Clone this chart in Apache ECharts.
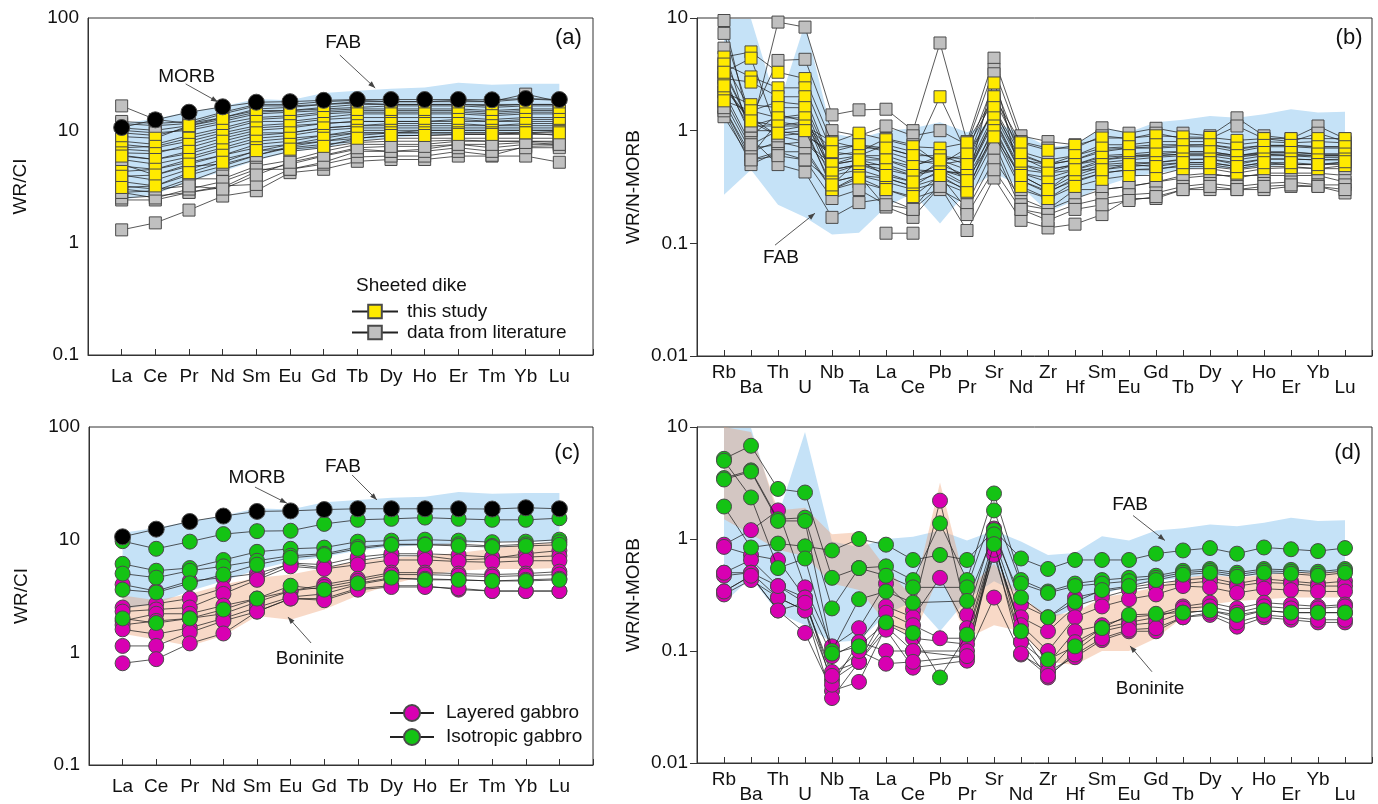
<!DOCTYPE html>
<html><head><meta charset="utf-8">
<script src="https://cdn.jsdelivr.net/npm/echarts@6/dist/echarts.min.js"></script>
<style>html,body{margin:0;padding:0;background:#fff}#c{width:1378px;height:804px}</style>
</head><body><div id="c"></div>
<script>
const FONT = "'Liberation Sans', Arial, sans-serif";
const REE = ['La','Ce','Pr','Nd','Sm','Eu','Gd','Tb','Dy','Ho','Er','Tm','Yb','Lu'];
const TE = ['Rb','Ba','Th','U','Nb','Ta','La','Ce','Pb','Pr','Sr','Nd','Zr','Hf','Sm','Eu','Gd','Tb','Dy','Y','Ho','Er','Yb','Lu'];

// MORB (chondrite-normalised)
const morbCI = [10.6, 12.4, 14.5, 16.2, 17.8, 18.0, 18.5, 18.8, 18.8, 18.8, 18.8, 18.7, 19.2, 18.8];
// FAB field (chondrite-normalised)
const fabCItop = [11.5, 12.7, 14.6, 16.3, 19.0, 18.5, 21.5, 22.5, 23.5, 24.0, 26.5, 25.5, 26.0, 26.0];
const fabCIbot = [2.4, 2.7, 3.5, 4.3, 5.4, 6.4, 7.0, 8.0, 8.6, 9.0, 9.3, 9.6, 9.7, 9.7];
// Boninite field (chondrite-normalised)
const bonCItop = [3.2, 2.9, 3.3, 4.0, 4.6, 4.9, 5.6, 6.5, 6.9, 7.2, 7.6, 8.3, 9.1, 9.4];
const bonCIbot = [1.46, 1.3, 1.14, 1.4, 2.1, 1.95, 2.4, 3.2, 4.0, 4.8, 5.3, 5.5, 5.5, 5.6];
// FAB field (N-MORB-normalised)
const fabNMtop = [9.8, 9.8, 1.6, 9.0, 0.95, 0.85, 1.0, 1.05, 1.19, 0.97, 1.19, 0.95, 0.72, 0.75, 1.06, 0.97, 1.19, 1.25, 1.35, 1.3, 1.4, 1.55, 1.45, 1.47];
const fabNMbot = [0.27, 0.45, 0.22, 0.17, 0.12, 0.124, 0.21, 0.28, 0.15, 0.29, 0.42, 0.32, 0.19, 0.24, 0.32, 0.38, 0.42, 0.45, 0.47, 0.46, 0.48, 0.5, 0.5, 0.5];
// Boninite field (N-MORB-normalised)
const bonNMtop = [10, 9, 1.8, 1.9, 1.1, 1.15, 0.55, 0.3, 3.2, 0.35, 0.6, 0.3, 0.21, 0.22, 0.3, 0.33, 0.37, 0.45, 0.48, 0.45, 0.48, 0.5, 0.5, 0.52];
const bonNMbot = [1.5, 1.1, 0.8, 0.7, 0.4, 0.35, 0.18, 0.13, 0.5, 0.13, 0.17, 0.15, 0.08, 0.075, 0.1, 0.1, 0.13, 0.2, 0.26, 0.28, 0.29, 0.3, 0.3, 0.3];

// Sheeted dike, this study (CI)
const dikeStudyCI = [
  [8.8, 8.5, 11, 12.5, 14.5, 15, 15.5, 16, 16.5, 16.5, 16.5, 16, 16.5, 16.5],
  [7.0, 7.2, 8.5, 10, 12, 12, 13, 14, 14, 14, 14, 13.5, 14, 14],
  [6.3, 6.2, 7.5, 9, 10.5, 11, 11.5, 12, 12, 12, 12.5, 12, 12.5, 12.5],
  [5.9, 5.5, 6.5, 8, 9.5, 9.5, 10.5, 11, 11.5, 11.5, 11.5, 11, 11.5, 11.5],
  [4.3, 4.5, 5.5, 6.7, 8, 8.5, 9, 10, 10, 10, 10, 10, 10, 10],
  [3.9, 4.0, 5.0, 6.0, 7.0, 7.5, 8.5, 9.5, 9.5, 9.5, 9.5, 9.5, 9.5, 9.8],
  [3.1, 3.2, 4.2, 5.2, 6.6, 6.8, 7.2, 8.5, 9.0, 9.0, 9.2, 9.2, 9.5, 9.5]
];
// Sheeted dike, literature (CI)
const dikeLitCI = [
  [16.5, 12.5, 11.5, 13, 15, 15, 16, 17, 17, 17, 17, 16.5, 17, 17],
  [1.3, 1.5, 1.95, 2.6, 2.9, 4.2, 4.5, 5.3, 5.5, 5.5, 5.9, 5.9, 5.9, 5.2],
  [2.4, 2.4, 2.8, 3.2, 3.3, 4.5, 5.0, 5.8, 5.9, 5.9, 6.5, 6.0, 7.2, 7.3],
  [2.5, 2.6, 2.8, 3.1, 4.3, 5.0, 5.9, 6.8, 6.5, 6.8, 7.5, 7.0, 7.5, 7.5],
  [2.8, 2.9, 3.7, 3.7, 4.8, 5.4, 6.5, 7.5, 7.5, 7.5, 8.0, 8.0, 8.0, 8.0],
  [11.5, 11, 11.5, 14, 16.5, 16.5, 17, 18, 18, 18, 18, 18, 21, 18],
  [10.5, 10, 11, 13, 15.5, 16, 17, 17.5, 17, 17, 17, 17, 17, 17],
  [9.5, 9.0, 10.5, 12, 14, 14.5, 15, 15.5, 15.5, 15.5, 15.5, 15, 15.5, 15.5],
  [8.0, 7.5, 9.0, 10.5, 12.5, 13, 14, 14.5, 14.5, 14.5, 14.5, 14, 14.5, 14.5],
  [7.5, 7.0, 8.0, 9.5, 11, 11.5, 12.5, 13, 13, 13, 13, 12.5, 13, 13],
  [6.8, 6.5, 7.0, 8.5, 10, 10.5, 11.5, 12, 12, 12, 12, 12, 12, 12],
  [6.0, 5.5, 6.2, 7.5, 9.0, 9.5, 10.5, 11, 11, 11, 11, 11, 11, 11],
  [5.5, 5.0, 5.8, 7.0, 8.5, 9.0, 10, 10.5, 10.5, 10.5, 10.5, 10.5, 10.5, 10.5],
  [4.8, 4.5, 5.2, 6.0, 7.5, 8.0, 9.0, 9.5, 9.5, 10, 10, 10, 10, 10],
  [4.0, 3.6, 4.5, 5.5, 6.5, 7.5, 8.0, 8.5, 9.0, 9.0, 9.2, 9.2, 9.2, 9.2],
  [3.5, 3.2, 4.0, 4.8, 6.0, 7.0, 7.5, 8.0, 8.5, 8.5, 8.5, 8.5, 8.5, 8.5],
  [3.0, 2.8, 3.5, 4.5, 5.5, 6.5, 7.0, 7.8, 8.0, 8.0, 8.2, 8.0, 8.0, 7.8],
  [2.8, 2.5, 3.0, 3.5, 4.5, 4.5, 5.2, 6.5, 6.5, 6.5, 7.0, 6.5, 7.0, 7.0],
  [12, 11.5, 12, 14.5, 17, 17, 18, 18.5, 18, 18, 18.5, 18, 19, 18.5],
  [10, 9.5, 10, 11.5, 13, 13.5, 14.5, 15, 15, 15, 15, 14.5, 15, 15],
  [5.0, 4.0, 4.8, 5.0, 6.0, 7.2, 8.0, 9.0, 9.5, 9.5, 9.5, 9.5, 9.5, 9.0],
  [3.2, 3.0, 3.2, 3.0, 4.0, 5.2, 6.0, 7.0, 7.2, 7.2, 7.5, 7.5, 7.8, 7.5]
];
// Sheeted dike, this study (N-MORB)
const dikeStudyNM = [
  [4.5, 5.0, 3.3, 2.9, 0.78, 0.95, 0.83, 0.72, 0.7, 0.78, 2.0, 0.78, 0.67, 0.74, 0.86, 0.86, 0.9, 0.88, 0.87, 0.82, 0.85, 0.85, 0.85, 0.85],
  [3.9, 3.0, 2.4, 2.4, 0.65, 0.75, 0.7, 0.6, 2.0, 0.62, 2.65, 0.62, 0.5, 0.6, 0.7, 0.72, 0.75, 0.75, 0.75, 0.7, 0.74, 0.74, 0.72, 0.72],
  [2.9, 2.7, 2.0, 2.0, 0.5, 0.6, 0.55, 0.48, 0.6, 0.5, 1.6, 0.5, 0.42, 0.5, 0.58, 0.6, 0.62, 0.65, 0.65, 0.6, 0.64, 0.64, 0.62, 0.62],
  [2.2, 1.7, 1.6, 1.6, 0.42, 0.5, 0.45, 0.4, 0.5, 0.4, 1.3, 0.42, 0.35, 0.42, 0.5, 0.52, 0.52, 0.56, 0.56, 0.52, 0.56, 0.56, 0.55, 0.56],
  [1.84, 1.5, 1.3, 1.3, 0.35, 0.4, 0.38, 0.32, 0.45, 0.33, 1.1, 0.36, 0.29, 0.36, 0.42, 0.45, 0.45, 0.5, 0.5, 0.46, 0.5, 0.5, 0.5, 0.52],
  [2.5, 1.22, 1.1, 1.1, 0.3, 0.38, 0.3, 0.26, 0.4, 0.29, 1.0, 0.32, 0.25, 0.32, 0.37, 0.4, 0.4, 0.46, 0.46, 0.42, 0.46, 0.47, 0.46, 0.49],
  [3.3, 4.4, 0.95, 1.0, 0.33, 0.55, 0.4, 0.35, 0.55, 0.36, 0.88, 0.4, 0.3, 0.45, 0.45, 0.5, 0.48, 0.52, 0.52, 0.48, 0.52, 0.52, 0.5, 0.53]
];
// Sheeted dike, literature (N-MORB)
const dikeLitNM = [
  [9.5, 1.0, 9.2, 8.3, 1.38, 1.53, 1.55, 1.0, 6.0, 0.8, 4.4, 0.9, 0.8, 0.75, 1.06, 0.95, 1.05, 0.95, 0.9, 1.3, 0.9, 0.85, 1.1, 0.85],
  [7.3, 1.3, 4.2, 4.3, 1.0, 0.9, 1.1, 0.9, 1.0, 0.75, 3.5, 0.8, 0.7, 0.7, 0.9, 0.85, 0.95, 0.85, 0.85, 1.1, 0.85, 0.8, 0.95, 0.8],
  [5.4, 0.85, 0.5, 0.43, 0.17, 0.23, 0.25, 0.2, 0.4, 0.2, 0.55, 0.25, 0.2, 0.3, 0.3, 0.32, 0.35, 0.38, 0.4, 0.4, 0.4, 0.4, 0.4, 0.35],
  [1.33, 0.55, 0.65, 0.65, 0.3, 0.4, 0.21, 0.17, 0.32, 0.13, 0.38, 0.16, 0.137, 0.148, 0.18, 0.25, 0.25, 0.3, 0.3, 0.3, 0.3, 0.32, 0.32, 0.28],
  [null, null, null, null, null, null, 0.123, 0.123, null, null, null, null, null, null, null, null, null, null, null, null, null, null, null, null],
  [1.6, 0.6, 1.2, 1.1, 0.8, 0.7, 0.7, 0.6, 0.6, 0.55, 1.6, 0.6, 0.5, 0.55, 0.65, 0.7, 0.7, 0.72, 0.72, 0.65, 0.72, 0.72, 0.7, 0.7],
  [2.4, 1.2, 0.9, 0.95, 0.6, 0.65, 0.85, 0.75, 0.5, 0.7, 1.9, 0.65, 0.55, 0.6, 0.75, 0.75, 0.8, 0.8, 0.8, 0.75, 0.8, 0.78, 0.8, 0.78],
  [3.0, 0.9, 1.4, 1.2, 0.55, 0.6, 0.6, 0.5, 0.55, 0.45, 1.4, 0.5, 0.45, 0.5, 0.6, 0.62, 0.65, 0.65, 0.65, 0.6, 0.65, 0.65, 0.62, 0.62],
  [2.0, 0.7, 0.75, 0.8, 0.45, 0.5, 0.5, 0.42, 0.45, 0.4, 1.2, 0.42, 0.38, 0.45, 0.52, 0.55, 0.58, 0.6, 0.6, 0.55, 0.6, 0.6, 0.58, 0.58],
  [4.0, 1.5, 1.8, 1.7, 0.5, 0.55, 0.48, 0.4, 0.45, 0.38, 1.0, 0.4, 0.3, 0.4, 0.48, 0.5, 0.52, 0.55, 0.56, 0.5, 0.56, 0.56, 0.55, 0.55],
  [1.5, 0.5, 0.65, 0.55, 0.35, 0.4, 0.35, 0.3, 0.35, 0.28, 0.8, 0.22, 0.2, 0.25, 0.3, 0.32, 0.35, 0.4, 0.42, 0.38, 0.42, 0.42, 0.42, 0.4],
  [2.7, 1.0, 1.0, 1.1, 0.7, 0.75, 0.65, 0.55, 0.5, 0.55, 2.2, 0.58, 0.45, 0.5, 0.55, 0.6, 0.6, 0.62, 0.62, 0.6, 0.62, 0.6, 0.6, 0.6],
  [3.5, 1.1, 1.3, 1.4, 0.4, 0.45, 0.38, 0.32, 0.38, 0.3, 0.9, 0.3, 0.25, 0.35, 0.42, 0.45, 0.46, 0.48, 0.48, 0.45, 0.48, 0.48, 0.46, 0.46],
  [1.8, 0.65, 0.8, 0.7, 0.3, 0.35, 0.3, 0.25, 0.3, 0.22, 0.7, 0.2, 0.18, 0.22, 0.25, 0.27, 0.28, 0.32, 0.34, 0.32, 0.34, 0.35, 0.33, 0.33],
  [2.2, 0.75, 1.0, 0.9, 0.65, 0.6, 0.75, 0.65, 0.55, 0.6, 1.5, 0.55, 0.5, 0.55, 0.68, 0.7, 0.72, 0.74, 0.75, 0.68, 0.74, 0.74, 0.72, 0.72],
  [null, 1.3, 0.9, 0.8, 0.5, 0.55, 0.55, 0.45, null, 0.42, 1.3, 0.45, 0.42, 0.45, 0.55, 0.58, 0.6, 0.62, 0.62, 0.58, 0.62, 0.62, 0.6, 0.6],
  [3.3, 1.1, 1.1, 1.2, 0.45, 0.5, 0.42, 0.35, 0.42, 0.32, 3.2, 0.36, 0.28, 0.38, 0.45, 0.48, 0.5, 0.52, 0.52, 0.48, 0.52, 0.5, 0.5, 0.5],
  [1.6, 0.55, 0.6, 0.55, 0.25, 0.3, 0.22, 0.2, 0.32, 0.18, 0.45, 0.2, 0.16, 0.2, 0.22, 0.24, 0.26, 0.3, 0.32, 0.3, 0.32, 0.33, 0.32, 0.3]
];
// Layered gabbro (CI)
const gabLayCI = [
  [4.0, 3.5, 4.3, 4.6, 5.0, 6.1, 5.6, 6.5, 7.2, 7.2, 6.6, 6.8, 7.5, 8.0],
  [2.5, 2.7, 3.0, 3.7, 4.6, 6.2, 6.0, 7.0, 7.5, 7.5, 7.3, 7.0, 7.0, 7.2],
  [2.3, 2.4, 2.5, 3.3, 4.4, 5.8, 5.5, 6.0, 6.6, 6.6, 6.4, 6.3, 6.5, 6.5],
  [1.9, 2.2, 2.2, 2.6, 3.0, 3.5, 4.0, 4.5, 5.1, 5.1, 5.0, 4.9, 5.0, 5.2],
  [1.75, 1.9, 2.0, 2.2, 2.8, 3.5, 3.8, 4.3, 4.9, 4.9, 4.8, 4.7, 4.8, 4.9],
  [1.6, 1.45, 1.65, 2.0, 2.5, 3.1, 3.3, 4.0, 4.5, 4.5, 4.4, 4.3, 4.4, 4.5],
  [1.14, 1.14, 1.5, 1.9, 2.3, 3.0, 3.0, 3.7, 3.9, 3.9, 3.6, 3.5, 3.5, 3.5],
  [0.8, 0.87, 1.2, 1.47, 2.3, 3.0, 2.9, 3.6, 3.8, 3.8, 3.7, 3.5, 3.5, 3.5]
];
// Isotropic gabbro (CI)
const gabIsoCI = [
  [9.7, 8.3, 9.6, 11.2, 11.9, 12.0, 13.8, 15.0, 15.3, 15.7, 15.3, 15.0, 15.0, 15.5],
  [6.1, 5.3, 5.6, 6.6, 7.8, 8.3, 8.5, 9.6, 9.8, 10.0, 9.8, 9.5, 9.6, 10.0],
  [5.0, 4.6, 5.3, 5.8, 6.5, 7.2, 7.5, 8.6, 9.1, 9.1, 9.1, 8.8, 9.1, 9.5],
  [3.6, 3.4, 4.1, 4.9, 6.0, 6.9, 7.3, 8.3, 9.0, 9.0, 8.8, 8.6, 8.8, 9.0],
  [2.0, 1.82, 2.0, 2.4, 3.0, 3.9, 3.6, 4.1, 4.6, 4.4, 4.4, 4.3, 4.3, 4.4]
];
// Layered gabbro (N-MORB)
const gabLayNM = [
  [0.89, 1.2, 1.8, 0.37, 0.11, 0.16, 0.40, 0.23, 2.2, 0.21, 1.24, 0.26, 0.20, 0.30, 0.34, 0.37, 0.40, 0.43, 0.45, 0.40, 0.44, 0.42, 0.40, 0.42],
  [0.85, 0.72, 0.65, 0.30, 0.09, 0.12, 0.25, 0.20, 0.45, 0.16, 1.0, 0.20, 0.15, 0.25, 0.30, 0.35, 0.38, 0.40, 0.42, 0.38, 0.41, 0.40, 0.38, 0.38],
  [0.50, 0.65, 0.38, 0.27, 0.065, 0.08, 0.22, 0.17, 0.13, 0.13, 0.83, 0.17, 0.10, 0.20, 0.25, 0.29, 0.32, 0.38, 0.37, 0.33, 0.36, 0.35, 0.34, 0.34],
  [0.47, 0.50, 0.30, 0.23, 0.055, 0.08, 0.175, 0.13, null, 0.115, 0.72, 0.12, 0.077, 0.15, 0.17, 0.20, 0.21, 0.25, 0.27, 0.24, 0.27, 0.26, 0.25, 0.26],
  [0.34, 0.47, 0.23, 0.145, 0.044, 0.053, 0.165, 0.10, null, 0.088, 0.30, 0.093, 0.066, 0.12, 0.16, 0.18, 0.20, 0.24, 0.25, 0.22, 0.25, 0.24, 0.24, 0.25],
  [0.32, 0.43, 0.30, 0.23, 0.038, 0.08, 0.155, 0.071, null, 0.082, 0.95, 0.12, 0.058, 0.10, 0.15, 0.17, 0.18, 0.22, 0.23, 0.20, 0.23, 0.22, 0.22, 0.22],
  [0.50, 0.50, 0.38, 0.30, 0.05, 0.12, 0.10, 0.10, null, 0.10, 0.90, 0.15, 0.066, 0.088, 0.125, 0.15, 0.15, 0.20, 0.21, 0.165, 0.20, 0.19, 0.18, 0.18],
  [0.34, 0.47, 0.23, 0.27, 0.06, 0.10, 0.077, 0.08, null, 0.09, 0.80, 0.095, 0.06, 0.093, 0.13, 0.155, 0.16, 0.20, 0.22, 0.18, 0.21, 0.20, 0.19, 0.19]
];
// Isotropic gabbro (N-MORB)
const gabIsoNM = [
  [1.95, 0.84, 0.91, 0.86, 0.79, 1.0, 0.89, 0.65, 0.72, 0.65, 1.2, 0.67, 0.54, 0.65, 0.65, 0.65, 0.74, 0.79, 0.83, 0.74, 0.84, 0.81, 0.78, 0.83],
  [5.2, 6.8, 2.8, 2.6, 0.45, 0.55, 0.57, 0.43, 1.38, 0.43, 2.55, 0.43, 0.34, 0.40, 0.43, 0.45, 0.47, 0.52, 0.54, 0.50, 0.54, 0.53, 0.51, 0.54],
  [3.5, 4.1, 1.5, 1.55, 0.24, 0.55, 0.47, 0.37, null, 0.37, 1.8, 0.40, 0.33, 0.38, 0.40, 0.42, 0.45, 0.50, 0.52, 0.48, 0.52, 0.51, 0.49, 0.52],
  [3.4, 4.0, 1.45, 1.45, 0.10, 0.29, 0.34, 0.27, null, 0.28, 1.1, 0.30, 0.20, 0.275, 0.35, 0.38, 0.43, 0.48, 0.50, 0.46, 0.50, 0.49, 0.47, 0.50],
  [5.0, 2.35, 0.55, 0.67, 0.095, 0.11, 0.18, 0.145, 0.058, 0.14, 0.9, 0.15, 0.084, 0.11, 0.16, 0.21, 0.215, 0.22, 0.23, 0.21, 0.23, 0.22, 0.22, 0.22]
];

// annotations in data coordinates [x position on element axis, value]
const annotations = [
  {g:0, text:'MORB', at:[2.93, 29.8]}, {g:0, from:[2.9, 25.9], to:[3.86, 17.9]},
  {g:0, text:'FAB', at:[7.58, 60]}, {g:0, from:[7.48, 46.8], to:[8.53, 23.8]},
  {g:0, text:'(a)', at:[14.27, 66.4], big:true},
  {g:1, text:'FAB', at:[3.11, 0.074]}, {g:1, from:[2.89, 0.0964], to:[4.37, 0.185]},
  {g:1, text:'(b)', at:[24.15, 6.64], big:true},
  {g:2, text:'MORB', at:[5.0, 35.2]}, {g:2, from:[4.94, 29.3], to:[5.89, 21.1]},
  {g:2, text:'FAB', at:[7.56, 44.2]}, {g:2, from:[7.83, 37.5], to:[8.57, 22.5]},
  {g:2, text:'Boninite', at:[6.58, 0.87]}, {g:2, from:[6.61, 1.21], to:[5.92, 2.06]},
  {g:2, text:'(c)', at:[14.23, 58.8], big:true},
  {g:3, text:'FAB', at:[16.04, 2.03]}, {g:3, from:[16.15, 1.62], to:[17.33, 0.97]},
  {g:3, text:'Boninite', at:[16.78, 0.0461]}, {g:3, from:[16.85, 0.0653], to:[16.04, 0.111]},
  {g:3, text:'(d)', at:[24.1, 5.88], big:true}
];

const COL = {
  blue: 'rgb(197,226,247)', salmon: 'rgba(235,150,100,0.36)',
  yellow: '#ffea00', grey: '#c0c0c0', magenta: '#d800b2', green: '#14c314', black: '#000'
};

function toData(vals) { return vals.map((v, i) => [i + 1, v == null ? '-' : v]); }

function lineSeries(name, vals, g, symbol, size, color, z) {
  return {
    type: 'line', name, xAxisIndex: g, yAxisIndex: g, data: toData(vals),
    symbol, symbolSize: size, connectNulls: true, silent: true, z: z || 2,
    itemStyle: {color, borderColor: '#4a4a4a', borderWidth: 1, opacity: 1},
    lineStyle: {color: '#222', width: 0.75},
    emphasis: {disabled: true}
  };
}
function bandSeries(top, bot, g, color, z) {
  return {
    type: 'custom', xAxisIndex: g, yAxisIndex: g, silent: true, clip: true, z: z,
    data: top.map((v, i) => [i + 1, v, bot[i]]),
    encode: {x: 0, y: [1, 2]},
    renderItem: (params, api) => {
      if (params.dataIndex !== 0) return null;
      const pts = [];
      for (let i = 0; i < top.length; i++) pts.push(api.coord([i + 1, top[i]]));
      for (let i = bot.length - 1; i >= 0; i--) pts.push(api.coord([i + 1, bot[i]]));
      return {type: 'polygon', shape: {points: pts}, style: {fill: color}};
    }
  };
}
function xAxisCfg(g, names, staggered) {
  return {
    type: 'value', gridIndex: g, min: 0, max: names.length + 1, interval: 1,
    axisLine: {show: true, lineStyle: {color: '#333', width: 1}},
    axisTick: {show: true, inside: true, length: 6, lineStyle: {color: '#333'}},
    splitLine: {show: false},
    axisLabel: {
      fontFamily: FONT, fontSize: 19, color: '#111',
      margin: staggered ? 9 : 12, lineHeight: staggered ? 15 : 19,
      formatter: v => {
        const n = names[v - 1];
        if (!n) return '';
        return (staggered && (v - 1) % 2 === 1) ? '\n' + n : n;
      }
    }
  };
}
function yAxisCfg(g, min, max, name, gap, ticks) {
  return {
    type: 'log', logBase: 10, gridIndex: g, min, max,
    axisLine: {show: true, lineStyle: {color: '#333', width: 1}},
    axisTick: {show: ticks, inside: false, length: 7, lineStyle: {color: '#333'}},
    minorTick: {show: false}, splitLine: {show: false},
    axisLabel: {fontFamily: FONT, fontSize: 19, color: '#111', margin: 9},
    name, nameLocation: 'middle', nameGap: gap, nameRotate: 90,
    nameTextStyle: {fontFamily: FONT, fontSize: 19, color: '#111'}
  };
}

const series = [];
// panel (a)
series.push(bandSeries(fabCItop, fabCIbot, 0, COL.blue, 1));
dikeLitCI.forEach(v => series.push(lineSeries('data from literature', v, 0, 'rect', 12, COL.grey)));
dikeStudyCI.forEach(v => series.push(lineSeries('this study', v, 0, 'rect', 12, COL.yellow, 3)));
series.push(lineSeries('MORB', morbCI, 0, 'circle', 16, COL.black, 4));
// panel (b)
series.push(bandSeries(fabNMtop, fabNMbot, 1, COL.blue, 1));
dikeLitNM.forEach(v => series.push(lineSeries('data from literature', v, 1, 'rect', 12, COL.grey)));
dikeStudyNM.forEach(v => series.push(lineSeries('this study', v, 1, 'rect', 12, COL.yellow, 3)));
// panel (c)
series.push(bandSeries(fabCItop, fabCIbot, 2, COL.blue, 1));
series.push(bandSeries(bonCItop, bonCIbot, 2, COL.salmon, 1));
gabLayCI.forEach(v => series.push(lineSeries('Layered gabbro', v, 2, 'circle', 15, COL.magenta)));
gabIsoCI.forEach(v => series.push(lineSeries('Isotropic gabbro', v, 2, 'circle', 15, COL.green, 3)));
series.push(lineSeries('MORB', morbCI, 2, 'circle', 16, COL.black, 4));
// panel (d)
series.push(bandSeries(fabNMtop, fabNMbot, 3, COL.blue, 1));
series.push(bandSeries(bonNMtop, bonNMbot, 3, COL.salmon, 1));
gabLayNM.forEach(v => series.push(lineSeries('Layered gabbro', v, 3, 'circle', 15, COL.magenta)));
gabIsoNM.forEach(v => series.push(lineSeries('Isotropic gabbro', v, 3, 'circle', 15, COL.green, 3)));

const gridBase = {show: true, borderColor: '#333', borderWidth: 1, containLabel: false};
const option = {
  animation: false,
  backgroundColor: '#fff',
  textStyle: {fontFamily: FONT},
  grid: [
    Object.assign({left: 88, top: 18, width: 505, height: 337}, gridBase),
    Object.assign({left: 697, top: 18, width: 675, height: 338}, gridBase),
    Object.assign({left: 89, top: 427, width: 504, height: 338}, gridBase),
    Object.assign({left: 697, top: 427, width: 675, height: 338}, gridBase)
  ],
  xAxis: [xAxisCfg(0, REE, false), xAxisCfg(1, TE, true), xAxisCfg(2, REE, false), xAxisCfg(3, TE, true)],
  yAxis: [
    yAxisCfg(0, 0.1, 100, 'WR/CI', 58, false),
    yAxisCfg(1, 0.01, 10, 'WR/N-MORB', 54, true),
    yAxisCfg(2, 0.1, 100, 'WR/CI', 58, false),
    yAxisCfg(3, 0.01, 10, 'WR/N-MORB', 54, true)
  ],
  legend: [
    {data: ['this study', 'data from literature'], left: 351, top: 302, orient: 'vertical', padding: 0,
     itemWidth: 46, itemHeight: 17, itemGap: 2, selectedMode: false,
     textStyle: {fontFamily: FONT, fontSize: 19, lineHeight: 19, color: '#111', padding: [0, 0, 0, 4]}},
    {data: ['Layered gabbro', 'Isotropic gabbro'], left: 389, top: 703, orient: 'vertical', padding: 0,
     itemWidth: 44, itemHeight: 20, itemGap: 4, selectedMode: false,
     textStyle: {fontFamily: FONT, fontSize: 19, lineHeight: 20, color: '#111', padding: [0, 0, 0, 7]}}
  ],
  graphic: [
    {type: 'text', left: 356, top: 276, style: {text: 'Sheeted dike', fontFamily: FONT, fontSize: 19, fill: '#111'}}
  ],
  series
};

const chart = echarts.init(document.getElementById('c'), null, {renderer: 'canvas'});
chart.setOption(option);

// place annotations through the axes' scales
const gfx = [];
annotations.forEach(a => {
  if (a.text) {
    const p = chart.convertToPixel({gridIndex: a.g}, a.at);
    gfx.push({type: 'text', x: p[0], y: p[1], silent: true, z: 10,
      style: {text: a.text, fontFamily: FONT, fontSize: a.big ? 22 : 19, fill: '#111', align: 'center', verticalAlign: 'middle'}});
  } else {
    const p0 = chart.convertToPixel({gridIndex: a.g}, a.from);
    const p1 = chart.convertToPixel({gridIndex: a.g}, a.to);
    gfx.push({type: 'line', silent: true, z: 10, shape: {x1: p0[0], y1: p0[1], x2: p1[0], y2: p1[1]},
      style: {stroke: '#444', lineWidth: 0.9}});
    const ang = Math.atan2(p1[1] - p0[1], p1[0] - p0[0]);
    const L = 7, W = 2.6;
    const bx = p1[0] - L * Math.cos(ang), by = p1[1] - L * Math.sin(ang);
    gfx.push({type: 'polygon', silent: true, z: 10, shape: {points: [
      [p1[0], p1[1]],
      [bx + W * Math.sin(ang), by - W * Math.cos(ang)],
      [bx - W * Math.sin(ang), by + W * Math.cos(ang)]
    ]}, style: {fill: '#444'}});
  }
});
chart.setOption({graphic: option.graphic.concat(gfx)});
</script></body></html>
